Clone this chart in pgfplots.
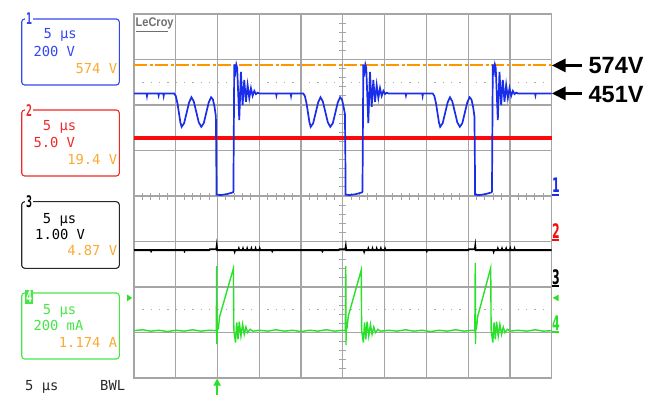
\documentclass[border=0pt]{standalone}
\usepackage{pgfplots}
\pgfplotsset{compat=1.18}
\usepackage{fontspec}
\usepackage{graphicx}
\usetikzlibrary{arrows.meta}
\setmainfont{DejaVu Sans Mono}
\newfontfamily\dvsans{DejaVu Sans}
\newfontfamily\libsans{Liberation Sans}
\definecolor{gridgray}{RGB}{165,165,165}
\definecolor{dotgray}{RGB}{170,170,170}
\definecolor{scblue}{RGB}{25,45,235}
\definecolor{scred}{RGB}{250,10,10}
\definecolor{scgreen}{RGB}{40,225,40}
\definecolor{scorange}{RGB}{255,150,0}
\definecolor{logogray}{RGB}{110,110,110}
\definecolor{boxblue}{RGB}{50,70,240}
\definecolor{boxred}{RGB}{240,40,40}
\definecolor{boxblack}{RGB}{40,40,40}
\definecolor{boxgreen}{RGB}{70,230,70}
\definecolor{txtorange}{RGB}{250,170,50}
\newcommand{\bx}[1]{{\fontsize{13.8}{14}\selectfont #1}}
\newcommand{\bn}[1]{\scalebox{0.62}[1]{\fontsize{16}{16}\selectfont\bfseries #1}}
\newcommand{\mk}[1]{\scalebox{0.55}[1]{\dvsans\bfseries\fontsize{20}{20}\selectfont #1}}
\begin{document}
\begin{tikzpicture}[x=1pt,y=1pt]
\useasboundingbox (0,0) rectangle (656,394);
% ---- channel boxes ----
\draw[boxblue, line width=1.1pt, rounded corners=3pt] (21.7,309) rectangle (119.3,375);
\node[fill=white, inner sep=0.8pt, text=boxblue] at (29,375) {\bn{1}};
\node[anchor=base west, inner sep=0, text=boxblue] at (43.3,355.7) {\bx{5 μs}};
\node[anchor=base west, inner sep=0, text=boxblue] at (33.3,337.3) {\bx{200 V}};
\node[anchor=base east, inner sep=0, text=txtorange] at (117.3,320.7) {\bx{574 V}};
\draw[boxred, line width=1.1pt, rounded corners=3pt] (21.7,218) rectangle (119.3,284);
\node[fill=white, inner sep=0.8pt, text=boxred] at (29,283) {\bn{2}};
\node[anchor=base west, inner sep=0, text=boxred] at (42.7,263.3) {\bx{5 μs}};
\node[anchor=base west, inner sep=0, text=boxred] at (33.3,246) {\bx{5.0 V}};
\node[anchor=base east, inner sep=0, text=txtorange] at (117.3,229) {\bx{19.4 V}};
\draw[boxblack, line width=1.1pt, rounded corners=3pt] (21.7,125.7) rectangle (119.3,192.3);
\node[fill=white, inner sep=0.8pt, text=black] at (29,192) {\bn{3}};
\node[anchor=base west, inner sep=0, text=black] at (42.7,170.7) {\bx{5 μs}};
\node[anchor=base west, inner sep=0, text=black] at (35,154.7) {\bx{1.00 V}};
\node[anchor=base east, inner sep=0, text=txtorange] at (117.3,138.3) {\bx{4.87 V}};
\draw[boxgreen, line width=1.1pt, rounded corners=3pt] (21.7,35) rectangle (119.3,101);
\node[fill=boxgreen, inner sep=1.2pt, text=white] at (29,97) {\bn{4}};
\node[anchor=base west, inner sep=0, text=boxgreen] at (42.7,80) {\bx{5 μs}};
\node[anchor=base west, inner sep=0, text=boxgreen] at (33.3,64) {\bx{200 mA}};
\node[anchor=base east, inner sep=0, text=txtorange] at (117.3,46.7) {\bx{1.174 A}};
\node[anchor=base west, inner sep=0, text=boxblack] at (25,4) {\bx{5 μs}};
\node[anchor=base west, inner sep=0, text=boxblack] at (100,4) {\bx{BWL}};
% ---- centre crosshair with minor ticks ----
\begin{axis}[at={(134pt,16pt)}, anchor=south west, scale only axis,
  width=417.7pt, height=364pt, xmin=-5, xmax=5, ymin=-4, ymax=4,
  axis lines=middle, axis line style={-, draw=gridgray, line width=1.2pt},
  xtick={-5,...,5}, ytick={-4,...,4}, minor x tick num=4, minor y tick num=4,
  major tick length=0pt, minor tick length=7pt, tick align=center,
  minor tick style={gridgray, line width=1pt},
  xticklabels={}, yticklabels={}]
\end{axis}
% ---- traces ----
\begin{axis}[at={(134pt,16pt)}, anchor=south west, scale only axis,
  width=417.7pt, height=364pt, xmin=0, xmax=10, ymin=-4, ymax=4,
  xtick={0,...,10}, ytick={-4,...,4}, xticklabels={}, yticklabels={},
  major tick length=0pt, grid=major,
  major grid style={gridgray, line width=1.2pt},
  axis line style={gridgray, line width=1.2pt}, clip=false]
% cursors
\addplot[dotgray, line width=1.3pt, dash pattern=on 1.3pt off 7.04pt] coordinates {(0.2,2.5)(10,2.5)};
\addplot[dotgray, line width=1.3pt, dash pattern=on 1.3pt off 7.04pt] coordinates {(0.2,-2.5)(10,-2.5)};
\addplot[draw=scorange, line width=2pt, dash pattern=on 13pt off 2.5pt on 3pt off 2.5pt] coordinates {(0,2.87)(10,2.87)};
% channel 2 (red)
\addplot[scred, line width=4.5pt] coordinates {(0,1.27)(10,1.27)};
% channel 3 (black)
\addplot[black, line width=1.8pt] coordinates {(0,-1.19)(0.4,-1.19)(0.41,-1.21)(0.42,-1.19)(1.2,-1.19)(1.21,-1.21)(1.22,-1.19)(1.80,-1.19)(1.82,-1.17)(1.97,-1.17)(1.98,-1.10)(1.99,-1.19)(2.40,-1.19)(2.41,-1.22)(2.42,-1.19)(2.50,-1.19)(2.51,-1.16)(2.52,-1.19)(2.60,-1.19)(2.61,-1.16)(2.62,-1.19)(2.70,-1.19)(2.71,-1.16)(2.72,-1.19)(2.80,-1.19)(2.81,-1.16)(2.82,-1.19)(2.90,-1.19)(2.91,-1.16)(2.92,-1.19)(3.00,-1.19)(3.01,-1.16)(3.02,-1.19)(3.3,-1.19)(3.31,-1.21)(3.32,-1.19)(4.5,-1.19)(4.51,-1.21)(4.52,-1.19)(4.90,-1.19)(4.92,-1.17)(5.06,-1.17)(5.07,-1.11)(5.08,-1.19)(5.50,-1.19)(5.51,-1.22)(5.52,-1.19)(5.60,-1.19)(5.61,-1.16)(5.62,-1.19)(5.70,-1.19)(5.71,-1.16)(5.72,-1.19)(5.80,-1.19)(5.81,-1.16)(5.82,-1.19)(5.90,-1.19)(5.91,-1.16)(5.92,-1.19)(6.00,-1.19)(6.01,-1.16)(6.02,-1.19)(7.0,-1.19)(7.01,-1.21)(7.02,-1.19)(8.00,-1.19)(8.02,-1.17)(8.16,-1.17)(8.17,-1.10)(8.18,-1.19)(8.60,-1.19)(8.61,-1.22)(8.62,-1.19)(8.70,-1.19)(8.71,-1.16)(8.72,-1.19)(8.80,-1.19)(8.81,-1.16)(8.82,-1.19)(8.90,-1.19)(8.91,-1.16)(8.92,-1.19)(9.00,-1.19)(9.01,-1.16)(9.02,-1.19)(9.10,-1.19)(9.11,-1.16)(9.12,-1.19)(10,-1.19)};
% channel 4 (green)
\addplot[scgreen, line width=1.4pt] coordinates {(0,-2.96)(0.2,-2.94)(0.4,-2.97)(0.6,-2.95)(0.8,-2.98)(1.0,-2.95)(1.2,-2.97)(1.4,-2.94)(1.6,-2.97)(1.8,-2.95)(1.97,-2.96)(1.98,-1.54)(1.985,-3.25)(1.99,-2.95)(2.02,-2.91)(2.05,-2.65)(2.38,-1.59)(2.39,-2.95)(2.43,-3.22)(2.46,-2.78)(2.49,-3.15)(2.52,-2.76)(2.56,-3.08)(2.60,-2.82)(2.64,-3.04)(2.68,-2.88)(2.72,-3.00)(2.78,-2.93)(2.85,-2.97)(3.0,-2.95)(3.2,-2.97)(3.4,-2.94)(3.6,-2.97)(3.8,-2.95)(4.0,-2.98)(4.2,-2.95)(4.4,-2.97)(4.6,-2.94)(4.8,-2.97)(5.0,-2.95)(5.06,-2.96)(5.07,-1.54)(5.075,-3.28)(5.08,-2.95)(5.10,-2.90)(5.13,-2.64)(5.44,-1.63)(5.45,-2.95)(5.49,-3.22)(5.52,-2.78)(5.55,-3.15)(5.58,-2.76)(5.62,-3.08)(5.66,-2.82)(5.70,-3.04)(5.74,-2.88)(5.78,-3.00)(5.84,-2.93)(5.90,-2.97)(6.1,-2.95)(6.3,-2.97)(6.5,-2.94)(6.7,-2.97)(6.9,-2.95)(7.1,-2.98)(7.3,-2.95)(7.5,-2.97)(7.7,-2.94)(7.9,-2.97)(8.1,-2.95)(8.16,-2.96)(8.17,-1.47)(8.175,-3.25)(8.18,-2.95)(8.20,-2.90)(8.23,-2.64)(8.54,-1.58)(8.55,-2.95)(8.59,-3.22)(8.62,-2.78)(8.65,-3.15)(8.68,-2.76)(8.72,-3.08)(8.76,-2.82)(8.80,-3.04)(8.84,-2.88)(8.88,-3.00)(8.94,-2.93)(9.00,-2.97)(9.2,-2.95)(9.4,-2.97)(9.6,-2.94)(9.8,-2.97)(10,-2.96)};
% channel 1 (blue)
\addplot[scblue, line width=1.7pt] coordinates {(0,2.255)(0.30,2.255)(0.31,2.20)(0.32,2.255)(0.58,2.255)(0.59,2.21)(0.60,2.255)(0.70,2.255)(0.71,2.20)(0.72,2.255)
(0.96,2.255)(1.00,2.20)(1.04,2.04)(1.08,1.80)(1.11,1.62)(1.14,1.52)(1.20,1.60)(1.26,1.83)(1.32,2.06)(1.375,2.17)(1.43,2.08)(1.49,1.85)(1.55,1.62)(1.61,1.52)(1.67,1.60)(1.73,1.83)(1.79,2.06)(1.845,2.17)(1.89,2.12)(1.93,1.95)(1.96,1.75)(1.97,0.90)(1.975,0.03)(2.07,0.02)(2.22,0.04)(2.37,0.08)(2.38,0.10)(2.40,2.89)(2.43,2.74)(2.45,2.89)(2.47,2.82)(2.52,1.67)(2.56,2.73)(2.60,2.00)(2.64,2.55)(2.68,2.07)(2.72,2.44)(2.76,2.15)(2.80,2.37)(2.84,2.20)(2.88,2.31)(2.92,2.24)(2.96,2.27)(3.00,2.255)
(3.40,2.255)(3.41,2.21)(3.42,2.255)(3.75,2.255)(3.76,2.20)(3.77,2.255)
(4.05,2.255)(4.09,2.20)(4.13,2.04)(4.17,1.80)(4.20,1.62)(4.23,1.52)(4.29,1.60)(4.35,1.83)(4.41,2.06)(4.465,2.17)(4.52,2.08)(4.58,1.85)(4.64,1.62)(4.70,1.52)(4.76,1.60)(4.82,1.83)(4.88,2.06)(4.935,2.17)(4.98,2.12)(5.02,1.95)(5.05,1.80)(5.06,0.90)(5.065,0.03)(5.16,0.02)(5.31,0.04)(5.46,0.08)(5.47,0.10)(5.49,2.89)(5.52,2.74)(5.54,2.89)(5.56,2.82)(5.61,1.60)(5.65,2.73)(5.69,1.96)(5.73,2.55)(5.77,2.07)(5.81,2.44)(5.85,2.15)(5.89,2.37)(5.93,2.20)(5.97,2.31)(6.01,2.24)(6.05,2.27)(6.09,2.255)
(6.50,2.255)(6.51,2.21)(6.52,2.255)(6.90,2.255)(6.91,2.20)(6.92,2.255)
(7.15,2.255)(7.19,2.20)(7.23,2.04)(7.27,1.80)(7.30,1.62)(7.33,1.52)(7.39,1.60)(7.45,1.83)(7.51,2.06)(7.565,2.17)(7.62,2.08)(7.68,1.85)(7.74,1.62)(7.80,1.52)(7.86,1.60)(7.92,1.83)(7.98,2.06)(8.035,2.17)(8.08,2.12)(8.12,1.95)(8.15,1.75)(8.16,0.90)(8.165,0.03)(8.26,0.02)(8.41,0.04)(8.56,0.08)(8.57,0.10)(8.59,2.89)(8.62,2.74)(8.64,2.89)(8.66,2.82)(8.71,1.67)(8.75,2.73)(8.79,2.00)(8.83,2.55)(8.87,2.07)(8.91,2.44)(8.95,2.15)(8.99,2.37)(9.03,2.20)(9.07,2.31)(9.11,2.24)(9.15,2.27)(9.19,2.255)
(9.60,2.255)(9.61,2.21)(9.62,2.255)(10,2.255)};
% ground markers on the right
\draw[scblue, line width=1.8pt] (axis cs:10,0.03) -- ++(7pt,0pt);
\node[anchor=south west, inner sep=0pt, text=scblue] at ([xshift=0.3pt,yshift=1.6pt]axis cs:10,0.03) {\mk{1}};
\draw[scred, line width=1.8pt] (axis cs:10,-0.97) -- ++(7pt,0pt);
\node[anchor=south west, inner sep=0pt, text=scred] at ([xshift=0.3pt,yshift=1.6pt]axis cs:10,-0.97) {\mk{2}};
\draw[black, line width=1.8pt] (axis cs:10,-1.98) -- ++(7pt,0pt);
\node[anchor=south west, inner sep=0pt, text=black] at ([xshift=0.3pt,yshift=1.6pt]axis cs:10,-1.98) {\mk{3}};
\draw[scgreen, line width=1.8pt] (axis cs:10,-2.99) -- ++(7pt,0pt);
\node[anchor=south west, inner sep=0pt, text=scgreen] at ([xshift=0.3pt,yshift=1.6pt]axis cs:10,-2.99) {\mk{4}};
% trigger level markers
\fill[scgreen] (axis cs:10,-2.24) ++(1pt,0pt) -- ++(6pt,3.3pt) -- ++(0pt,-6.6pt) -- cycle;
\fill[scgreen] (axis cs:0,-2.24) ++(-1.8pt,0pt) -- ++(-5pt,3.3pt) -- ++(0pt,-6.6pt) -- cycle;
% trigger position arrow
\draw[scgreen, line width=2pt, -{Triangle[length=7pt,width=7pt]}] (axis cs:1.99,-4) ++(0pt,-20pt) -- ++(0pt,19.5pt);
% annotations
\draw[black, line width=3.3pt, -{Triangle[length=14pt,width=13pt]}] (axis cs:10.72,2.87) -- (axis cs:10.0,2.87);
\draw[black, line width=3.3pt, -{Triangle[length=14pt,width=13pt]}] (axis cs:10.72,2.255) -- (axis cs:10.0,2.255);
\node[anchor=west, inner sep=0pt] at (axis cs:10.88,2.87) {\libsans\bfseries\fontsize{23.5}{24}\selectfont 574V};
\node[anchor=west, inner sep=0pt] at (axis cs:10.88,2.22) {\libsans\bfseries\fontsize{23.5}{24}\selectfont 451V};
\end{axis}
% logo
\node[anchor=base west, inner sep=0, text=logogray] at (135.5,367) {\scalebox{0.88}[1]{\libsans\bfseries\fontsize{12.5}{13}\selectfont LeCroy}};
\draw[logogray, line width=1.3pt] (135.5,362.3) -- (168,362.3);
\end{tikzpicture}
\end{document}
